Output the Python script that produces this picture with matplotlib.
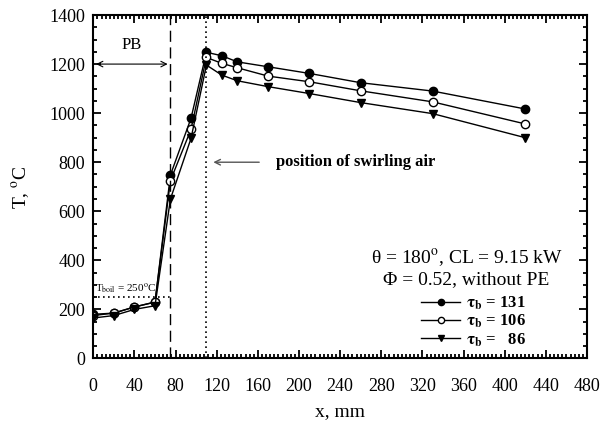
import matplotlib
matplotlib.use("Agg")
import matplotlib.pyplot as plt
from matplotlib.ticker import MultipleLocator

plt.rcParams['font.family'] = ['Liberation Serif', 'DejaVu Serif']
plt.rcParams['mathtext.fontset'] = 'stix'

x_mm = [0, 20, 40, 60, 75, 95, 110, 125, 140, 170, 210, 260, 330, 420]
T_131 = [180, 185, 210, 230, 748, 979, 1248, 1234, 1209, 1189, 1162, 1124, 1090, 1017]
T_106 = [175, 185, 210, 230, 725, 934, 1227, 1203, 1185, 1151, 1128, 1091, 1046, 956]
T_86 = [165, 175, 200, 215, 650, 897, 1196, 1155, 1132, 1108, 1080, 1043, 998, 900]

series_labels = [r'$\mathbf{\tau_b}$ = 131', r'$\mathbf{\tau_b}$ = 106', r'$\mathbf{\tau_b}$ =   86']
x_ticks = list(range(0, 481, 40))
y_ticks = list(range(0, 1401, 200))
pb_end = 75
swirl_x = 110
t_boil = 250

fig = plt.figure(figsize=(6.07, 4.34), dpi=100)
ax = fig.add_axes([0.1537, 0.174, 0.967 - 0.1537, 0.9654 - 0.174])

ax.plot(x_mm, T_131, '-o', color='black', mfc='black', mec='black', ms=6, lw=1, label=series_labels[0])
ax.plot(x_mm, T_106, '-o', color='black', mfc='white', mec='black', ms=6, lw=1, label=series_labels[1])
ax.plot(x_mm, T_86, '-v', color='black', mfc='black', mec='black', ms=6, lw=1, label=series_labels[2])

ax.set_xlim(0, 480)
ax.set_ylim(0, 1400)
ax.set_xticks(x_ticks)
ax.set_yticks(y_ticks)
ax.xaxis.set_minor_locator(MultipleLocator(4))
ax.yaxis.set_minor_locator(MultipleLocator(50))
ax.tick_params(which='both', direction='in', top=True, right=True, labelsize=13, width=1.3)
ax.tick_params(which='major', length=6)
ax.tick_params(which='minor', length=3)
ax.tick_params(axis='x', pad=14)
ax.tick_params(axis='y', pad=6)
for s in ax.spines.values():
    s.set_linewidth(1.5)

ax.axvline(pb_end, color='black', lw=1, ls=(0, (8, 4)))
ax.axvline(swirl_x, color='black', lw=1.2, ls=(0, (1, 2)))
ax.plot([0, pb_end], [t_boil, t_boil], color='black', lw=1.2, ls=(0, (1, 2)))
ax.text(2, 258, r'T$_{\rm boil}$ = 250$^{\rm o}$C', fontsize=8, ha='left', va='bottom')

ax.annotate('', xy=(0, 1200), xytext=(pb_end, 1200),
            arrowprops=dict(arrowstyle='<->', color='black', lw=0.8))
ax.text(37.5, 1245, 'PB', fontsize=12, ha='center', va='bottom')

ax.annotate('', xy=(114, 800), xytext=(164, 800),
            arrowprops=dict(arrowstyle='->', color='#555555', lw=1))
ax.text(178, 800, 'position of swirling air', fontsize=12, fontweight='bold',
        ha='left', va='center')

ax.text(363, 410, 'θ = 180$^{\\rm o}$, CL = 9.15 kW', fontsize=14, ha='center', va='center')
ax.text(363, 322, 'Φ = 0.52, without PE', fontsize=14, ha='center', va='center')

leg = ax.legend(loc='lower left', bbox_to_anchor=(319 / 480, 40 / 1400), frameon=False,
                handlelength=2.3, handletextpad=0.4, labelspacing=0.05,
                borderpad=0, borderaxespad=0, markerscale=0.75,
                prop={'weight': 'bold', 'size': 12})

ax.set_xlabel('x, mm', fontsize=14, labelpad=6)
ax.set_ylabel('T, $^{\\rm o}$C', fontsize=14, labelpad=12)

fig.savefig('out.png', dpi=100)
